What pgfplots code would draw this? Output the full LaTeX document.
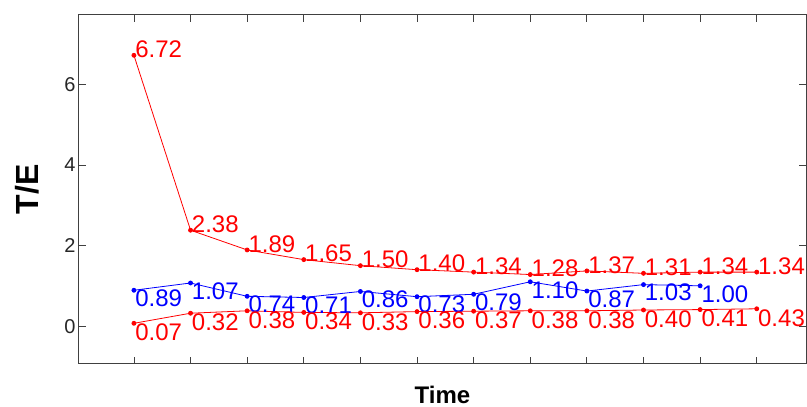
\documentclass[border=0pt]{standalone}
\usepackage{pgfplots}
\pgfplotsset{compat=1.18}
\usepackage{fontspec}
\setmainfont{Liberation Sans}

\begin{document}
\begin{tikzpicture}
\begin{axis}[
    scale only axis,
    width=727pt, height=349pt,
    xmin=0.03, xmax=12.87,
    ymin=-0.94, ymax=7.72,
    xtick={1,...,12}, xticklabels={},
    ytick={0,2,4,6},
    tick align=inside,
    major tick length=7pt,
    axis line style={black!75, line width=1pt},
    tick style={black!75, line width=0.8pt},
    /pgf/number format/assume math mode=true,
    yticklabel style={font=\fontsize{20}{24}\selectfont, text=black!85},
    xlabel={\textbf{Time}},
    ylabel={\textbf{T/E}},
    xlabel style={font=\fontsize{24}{28}\selectfont, at={(axis description cs:0.5,0)},
                  anchor=north, inner sep=0pt, yshift=-22pt},
    ylabel style={font=\fontsize{32}{36}\selectfont, at={(axis description cs:0,0.5)},
                  anchor=center, inner sep=0pt, yshift=52pt},
    clip=false,
]
% upper red series
\addplot[red, line width=0.8pt, mark=*, mark size=2pt,
    nodes near coords,
    every node near coord/.style={anchor=west, inner sep=0pt, xshift=1pt, yshift=6pt,
        text=red, font=\fontsize{24}{28}\selectfont,
        /pgf/number format/.cd, fixed, fixed zerofill, precision=2}]
coordinates {
  (1,6.72) (2,2.38) (3,1.89) (4,1.65) (5,1.50) (6,1.40)
  (7,1.34) (8,1.28) (9,1.37) (10,1.31) (11,1.34) (12,1.34)
};
% blue series
\addplot[blue, line width=0.8pt, mark=*, mark size=2pt,
    nodes near coords,
    every node near coord/.style={anchor=west, inner sep=0pt, xshift=1pt, yshift=-8pt,
        text=blue, font=\fontsize{24}{28}\selectfont,
        /pgf/number format/.cd, fixed, fixed zerofill, precision=2}]
coordinates {
  (1,0.89) (2,1.07) (3,0.74) (4,0.71) (5,0.86) (6,0.73)
  (7,0.79) (8,1.10) (9,0.87) (10,1.03) (11,1.00)
};
% lower red series
\addplot[red, line width=0.8pt, mark=*, mark size=2pt,
    nodes near coords,
    every node near coord/.style={anchor=west, inner sep=0pt, xshift=1pt, yshift=-9pt,
        text=red, font=\fontsize{24}{28}\selectfont,
        /pgf/number format/.cd, fixed, fixed zerofill, precision=2}]
coordinates {
  (1,0.07) (2,0.32) (3,0.38) (4,0.34) (5,0.33) (6,0.36)
  (7,0.37) (8,0.38) (9,0.38) (10,0.40) (11,0.41) (12,0.43)
};
\coordinate (sw) at (rel axis cs:0,0);
\coordinate (ne) at (rel axis cs:1,1);
\end{axis}
\pgfresetboundingbox
\path ([xshift=-79pt,yshift=-43pt]sw) rectangle ([xshift=1pt,yshift=15pt]ne);
\end{tikzpicture}
\end{document}
